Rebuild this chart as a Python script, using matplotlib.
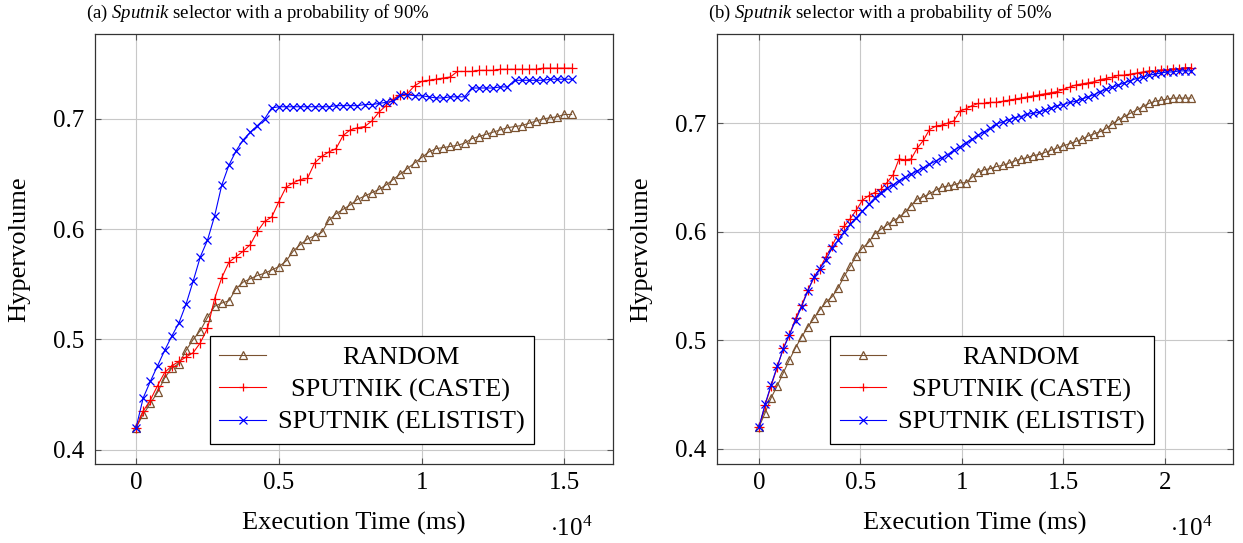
import numpy as np
import matplotlib
matplotlib.use('Agg')
import matplotlib.pyplot as plt
import matplotlib.ticker as mticker

# ── DATA ──────────────────────────────────────────────────────────────────────
# (a) selector probability 90 %  (execution time in ms)
TIME_A = [0, 250, 500, 750, 1000, 1250, 1500, 1750, 2000, 2250, 2500, 2750,
          3000, 3250, 3500, 3750, 4000, 4250, 4500, 4750, 5000, 5250, 5500,
          5750, 6000, 6250, 6500, 6750, 7000, 7250, 7500, 7750, 8000, 8250,
          8500, 8750, 9000, 9250, 9500, 9750, 10000, 10250, 10500, 10750,
          11000, 11250, 11500, 11750, 12000, 12250, 12500, 12750, 13000,
          13250, 13500, 13750, 14000, 14250, 14500, 14750, 15000, 15250]
RANDOM_A = [.420, .432, .442, .452, .465, .474, .478, .490, .500, .508, .520,
            .530, .533, .535, .546, .552, .555, .558, .560, .563, .566, .571,
            .580, .586, .591, .594, .597, .608, .614, .618, .622, .627, .630,
            .633, .636, .640, .645, .650, .655, .660, .665, .670, .673, .674,
            .675, .676, .678, .682, .684, .686, .688, .690, .692, .693, .694,
            .696, .698, .700, .701, .702, .704, .704]
CASTE_A = [.420, .435, .445, .458, .470, .476, .480, .484, .488, .497, .510,
           .537, .556, .570, .575, .580, .586, .598, .607, .611, .625, .638,
           .642, .645, .646, .660, .666, .670, .673, .685, .690, .692, .693,
           .698, .706, .712, .718, .722, .723, .730, .734, .735, .736, .737,
           .738, .743, .743, .743, .744, .744, .744, .745, .745, .745, .745,
           .745, .745, .746, .746, .746, .746, .746]
ELITIST_A = [.420, .447, .462, .476, .490, .503, .515, .532, .553, .575, .590,
             .612, .640, .658, .671, .681, .688, .694, .700, .710, .711, .711,
             .711, .711, .711, .711, .711, .711, .712, .712, .712, .712, .713,
             .713, .714, .715, .716, .722, .722, .721, .721, .720, .719, .719,
             .720, .720, .720, .728, .728, .728, .728, .729, .729, .735, .735,
             .735, .735, .735, .736, .736, .736, .736]

# (b) selector probability 50 %
TIME_B = [0, 300, 600, 900, 1200, 1500, 1800, 2100, 2400, 2700, 3000, 3300,
          3600, 3900, 4200, 4500, 4800, 5100, 5400, 5700, 6000, 6300, 6600,
          6900, 7200, 7500, 7800, 8100, 8400, 8700, 9000, 9300, 9600, 9900,
          10200, 10500, 10800, 11100, 11400, 11700, 12000, 12300, 12600,
          12900, 13200, 13500, 13800, 14100, 14400, 14700, 15000, 15300,
          15600, 15900, 16200, 16500, 16800, 17100, 17400, 17700, 18000,
          18300, 18600, 18900, 19200, 19500, 19800, 20100, 20400, 20700,
          21000, 21300]
RANDOM_B = [.420, .433, .447, .458, .470, .482, .493, .503, .512, .520, .528,
            .535, .540, .548, .559, .568, .578, .585, .590, .598, .602, .606,
            .610, .613, .618, .624, .630, .632, .635, .638, .641, .642, .643,
            .645, .645, .650, .655, .657, .658, .660, .661, .663, .665, .667,
            .668, .670, .671, .673, .675, .677, .679, .681, .683, .685, .688,
            .690, .692, .695, .699, .703, .706, .709, .712, .715, .718, .720,
            .721, .722, .723, .723, .723, .723]
CASTE_B = [.420, .440, .458, .475, .493, .505, .520, .532, .546, .557, .566,
           .577, .587, .598, .605, .612, .620, .629, .633, .636, .639, .645,
           .652, .667, .666, .667, .677, .684, .694, .697, .698, .700, .702,
           .711, .713, .716, .718, .718, .719, .719, .720, .721, .722, .723,
           .724, .725, .726, .727, .728, .729, .731, .733, .735, .736, .737,
           .738, .740, .741, .742, .744, .744, .745, .746, .747, .748, .748,
           .749, .749, .750, .750, .751, .751]
ELITIST_B = [.420, .441, .459, .476, .492, .505, .518, .531, .545, .558, .566,
             .574, .585, .592, .600, .607, .613, .619, .625, .631, .636, .640,
             .643, .647, .650, .653, .656, .659, .662, .665, .668, .671, .675,
             .678, .682, .685, .689, .692, .695, .699, .701, .703, .705, .706,
             .708, .709, .710, .712, .714, .716, .717, .719, .720, .722, .724,
             .726, .729, .731, .733, .735, .737, .739, .741, .742, .744, .745,
             .746, .747, .747, .748, .748, .748]

LABELS = ["RANDOM", "SPUTNIK (CASTE)", "SPUTNIK (ELISTIST)"]
X_TICKS_A = [0, 0.5, 1, 1.5]
X_TICKS_B = [0, 0.5, 1, 1.5, 2]
Y_TICKS = [0.4, 0.5, 0.6, 0.7]

# ── STYLE ─────────────────────────────────────────────────────────────────────
plt.rcParams['font.family'] = ['Liberation Serif', 'DejaVu Serif']
plt.rcParams['mathtext.fontset'] = 'custom'
plt.rcParams['mathtext.rm'] = 'Liberation Serif'
plt.rcParams['mathtext.it'] = 'Liberation Serif:italic'

STYLES = [
    dict(color="#7a5230", marker="^", markersize=6, markerfacecolor="none",
         markeredgewidth=0.9),
    dict(color="red", marker="+", markersize=7, markeredgewidth=0.9),
    dict(color="blue", marker="x", markersize=6, markeredgewidth=0.9),
]


def center_legend_text(fig, leg):
    """pgfplots centres legend entries; shift each text to mimic that."""
    fig.canvas.draw()
    texts = leg.get_texts()
    widths = [t.get_window_extent().width for t in texts]
    wmax = max(widths)
    for t, w in zip(texts, widths):
        t.set_x((wmax - w) / 2)


def draw_panel(ax, time, series, xticks, xlim, ylim):
    for ys, lab, st in zip(series, LABELS, STYLES):
        ax.plot(np.array(time) / 1e4, ys, linewidth=0.8, label=lab, **st)
    ax.set_xlim(*xlim)
    ax.set_ylim(*ylim)
    ax.set_xticks(xticks)
    ax.set_yticks(Y_TICKS)
    ax.xaxis.set_major_formatter(mticker.FuncFormatter(lambda v, p: f"{v:g}"))
    ax.yaxis.set_major_formatter(mticker.FuncFormatter(lambda v, p: f"{v:g}"))
    ax.grid(True, color="#c8c8c8", linewidth=0.8)
    ax.set_axisbelow(True)
    ax.tick_params(direction="in", length=4, width=0.8, color="#555555",
                   top=True, right=True, labelsize=18)
    ax.tick_params(axis="y", pad=8)
    ax.tick_params(axis="x", pad=6)
    for sp in ax.spines.values():
        sp.set_color("#333333")
        sp.set_linewidth(0.9)
    ax.set_xlabel("Execution Time (ms)", fontsize=19, labelpad=13)
    ax.set_ylabel("Hypervolume", fontsize=19, labelpad=16)
    ax.text(0.92, -0.15, r"$\cdot 10^{4}$", transform=ax.transAxes,
            fontsize=18, ha="center", va="center")
    leg = ax.legend(loc="lower right", bbox_to_anchor=(0.847, 0.0465),
                    borderaxespad=0, fontsize=19, fancybox=False,
                    edgecolor="black", framealpha=1, handlelength=1.75,
                    handletextpad=0.45, labelspacing=0.33, borderpad=0.36,
                    markerscale=0.85)
    leg.get_frame().set_linewidth(0.9)
    return leg


# ── MAIN ──────────────────────────────────────────────────────────────────────
fig = plt.figure(figsize=(12.43, 5.43), dpi=100)
ax_a = fig.add_axes([0.0764, 0.1455, 0.4168, 0.7919])
ax_b = fig.add_axes([0.5768, 0.1455, 0.4151, 0.7919])

leg_a = draw_panel(ax_a, TIME_A, [RANDOM_A, CASTE_A, ELITIST_A],
                   X_TICKS_A, (-0.144, 1.670), (0.387, 0.777))
leg_b = draw_panel(ax_b, TIME_B, [RANDOM_B, CASTE_B, ELITIST_B],
                   X_TICKS_B, (-0.207, 2.335), (0.386, 0.782))

fig.text(86 / 1243, 1 - 13 / 543,
         r"(a) $\it{Sputnik}$ selector with a probability of 90%",
         fontsize=13.5, ha="left", va="center")
fig.text(708 / 1243, 1 - 13 / 543,
         r"(b) $\it{Sputnik}$ selector with a probability of 50%",
         fontsize=13.5, ha="left", va="center")

center_legend_text(fig, leg_a)
center_legend_text(fig, leg_b)

fig.savefig("out.png", dpi=100)
